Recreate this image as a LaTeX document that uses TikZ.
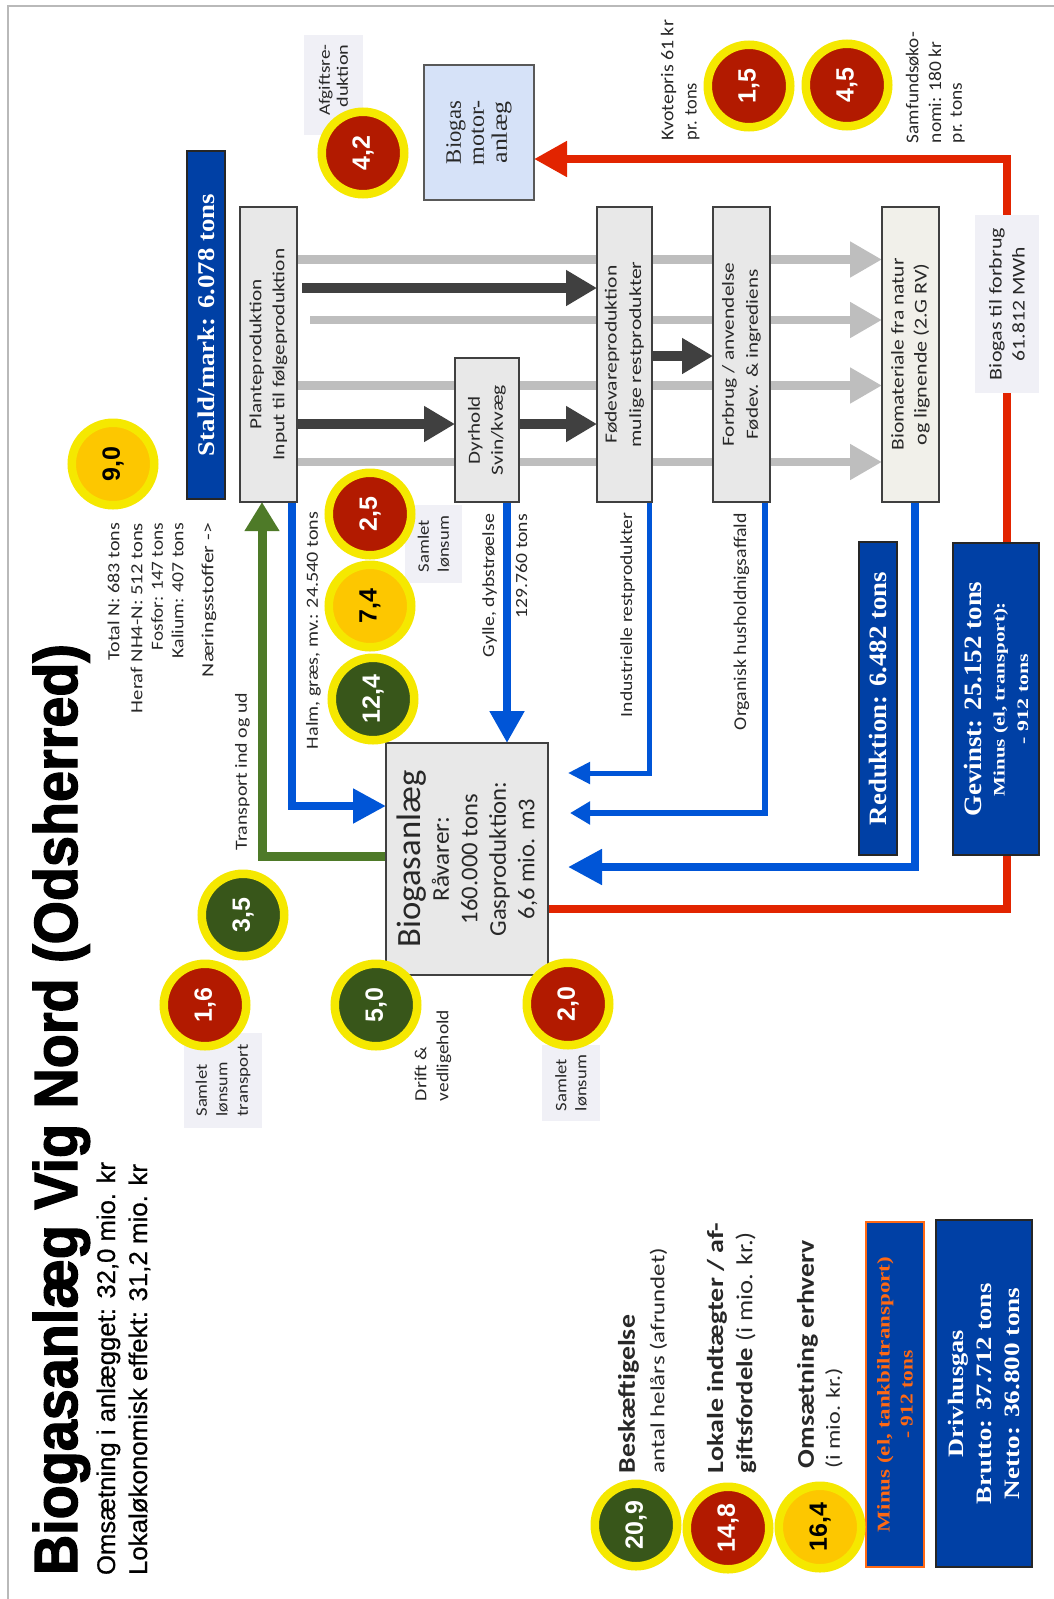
\documentclass[tikz,border=0pt]{standalone}
\usepackage{fontspec}
\usepackage{graphicx}
\setmainfont{Carlito}
\newfontfamily\lsans{Liberation Sans}
\newfontfamily\titf{Liberation Sans}[BoldFeatures={FakeBold=2.2}]
\newfontfamily\subf{Liberation Sans}[UprightFeatures={FakeBold=0.6}]
\newfontfamily\lserif{Liberation Serif}
\usetikzlibrary{arrows.meta}
\pgfdeclarelayer{bg}
\pgfsetlayers{bg,main}
\definecolor{dblue}{RGB}{0,64,165}
\definecolor{lblue}{RGB}{214,226,248}
\definecolor{bgray}{RGB}{232,232,232}
\definecolor{bwarm}{RGB}{241,240,234}
\definecolor{lbox}{RGB}{240,240,246}
\definecolor{bline}{RGB}{0,85,215}
\definecolor{rline}{RGB}{226,36,0}
\definecolor{gline}{RGB}{78,122,40}
\definecolor{lgray}{RGB}{190,190,190}
\definecolor{dgray}{RGB}{64,64,64}
\definecolor{ringy}{RGB}{245,232,0}
\definecolor{cred}{RGB}{178,26,0}
\definecolor{cgrn}{RGB}{56,86,26}
\definecolor{cgold}{RGB}{253,199,0}
\definecolor{orng}{RGB}{255,105,20}
\definecolor{txt}{RGB}{40,40,40}
\definecolor{framec}{RGB}{185,185,185}
\newcommand\fw[2]{\resizebox{#1pt}{\height}{#2}}
\newcommand\fsz[2]{\fontsize{#1pt}{#2pt}\selectfont}
\tikzset{
 rtxt/.style={rotate=90, inner sep=0pt, outer sep=0pt, text=txt},
 gbox/.style={rotate=90, draw=black!75, line width=1.1pt, fill=bgray, inner sep=0pt, outer sep=0pt, align=center, text=txt},
 lbl/.style={rotate=90, fill=lbox, inner sep=0pt, outer sep=0pt, text=txt},
 dbox/.style={rotate=90, draw=black!85, line width=1.2pt, fill=dblue, inner sep=0pt, outer sep=0pt, align=center, text=white},
 ncirc/.style={circle, draw=ringy, line width=8.5pt, minimum size=82.5pt, inner sep=0pt, rotate=90, font=\lsans\bfseries\fsz{25}{28}},
 nred/.style={ncirc, fill=cred, text=white},
 ngrn/.style={ncirc, fill=cgrn, text=white},
 ngold/.style={ncirc, fill=cgold, text=black},
 glin/.style={draw=lgray, line width=8.5pt, -{Triangle[length=32pt,width=34pt]}},
 dlin/.style={draw=dgray, line width=10pt, -{Triangle[length=31pt,width=34pt]}},
 blin/.style={draw=bline, line width=8pt},
}
\begin{document}
\begin{tikzpicture}[x=1pt,y=-1pt]
\useasboundingbox (0,0) rectangle (1054,1599);
% ---------- boxes ----------
\node[gbox, minimum width=295pt, minimum height=57pt, font=\fsz{17}{23}] (plante) at (268.5,354.5) {\fw{150}{Planteproduktion}\\\fw{212}{Input til følgeproduktion}};
\node[gbox, minimum width=144pt, minimum height=64pt, font=\fsz{17}{23}] (dyr) at (487,430) {\fw{68}{Dyrhold}\\\fw{90}{Svin/kvæg}};
\node[gbox, minimum width=295pt, minimum height=55pt, font=\fsz{17}{24.5}] (fode) at (624.5,354.5) {\fw{178}{Fødevareproduktion}\\\fw{186}{mulige restprodukter}};
\node[gbox, minimum width=295pt, minimum height=57pt, font=\fsz{17}{24}] (forb) at (741.5,354.5) {\fw{184}{Forbrug / anvendelse}\\\fw{170}{Fødev. \& ingrediens}};
\node[gbox, fill=bwarm, minimum width=295pt, minimum height=57pt, font=\fsz{18}{23}] (biom) at (910.5,354.5) {\fw{192}{Biomateriale fra natur}\\\fw{182}{og lignende (2.G RV)}};
\node[gbox, minimum width=232pt, minimum height=162pt, font=\fsz{24}{28.5}] (bio) at (467,859) {{\fsz{34}{34}\fw{177}{Biogasanlæg}}\\\fw{85}{Råvarer:}\\\fw{130}{160.000 tons}\\\fw{155}{Gasproduktion:}\\\fw{120}{6,6 mio. m3}};
\node[gbox, fill=lblue, draw=black!65, minimum width=135pt, minimum height=110pt, font=\lserif\fsz{22}{23}] (motor) at (479,132.5) {\fw{63}{Biogas}\\\fw{65}{motor-}\\\fw{62}{anlæg}};
% ---------- label boxes ----------
\node[lbl, minimum width=100pt, minimum height=59pt, align=right, font=\fsz{16}{18}] (afg) at (333.5,85) {\hspace*{10pt}\fw{71}{Afgiftsre-}\\\fw{63}{duktion}};
\node[lbl, minimum width=78pt, minimum height=57pt, align=left, font=\fsz{16}{20}] (sl1) at (433.5,544) {\fw{52}{Samlet}\\\fw{56}{lønsum}};
\node[lbl, minimum width=95pt, minimum height=78pt, align=left, font=\fsz{16}{20.5}] (slt) at (223,1080.5) {\fw{52}{Samlet}\\\fw{54}{lønsum}\\\fw{72}{transport}};
\node[lbl, minimum width=76pt, minimum height=58pt, align=left, font=\fsz{16}{20}] (sl2) at (571,1083) {\fw{52}{Samlet}\\\fw{56}{lønsum}};
\node[lbl, minimum width=178pt, minimum height=64pt, align=center, font=\fsz{18}{23}] (bforb) at (1007,304) {\fw{152}{Biogas til forbrug}\\\fw{114}{61.812 MWh}};
% ---------- dark blue boxes ----------
\node[dbox, minimum width=348pt, minimum height=38pt, font=\lserif\bfseries\fsz{24}{28}] (stald) at (206,325) {\fw{262}{Stald/mark: 6.078 tons}};
\node[dbox, minimum width=313pt, minimum height=38pt, font=\lserif\bfseries\fsz{25}{28}] (redk) at (878,698.5) {\fw{253}{Reduktion: 6.482 tons}};
\node[dbox, minimum width=312pt, minimum height=86pt, font=\lserif\bfseries\fsz{16}{23.5}] (gev) at (996,699) {{\fsz{25}{25}\fw{235}{Gevinst: 25.152 tons}}\\\fw{194}{Minus (el, transport):}\\\fw{90}{- 912 tons}};
\node[dbox, draw=orng, text=orng, minimum width=345pt, minimum height=58pt, font=\lserif\bfseries\fsz{18}{23}] (minus) at (895,1394.5) {\fw{275}{Minus (el, tankbiltransport)}\\\fw{88}{- 912 tons}};
\node[dbox, minimum width=347pt, minimum height=96pt, font=\lserif\bfseries\fsz{22}{28}] (driv) at (984,1393.5) {\fw{127}{Drivhusgas}\\\fw{221}{Brutto: 37.712 tons}\\\fw{212}{Netto: 36.800 tons}};
% ---------- free texts ----------
\node[rtxt, text=black, anchor=base west, font=\titf\bfseries\fsz{61}{61}] (title) at (77,1575) {\fw{931}{Biogasanlæg Vig Nord (Odsherred)}};
\node[rtxt, text=black, anchor=base west, font=\subf\fsz{25.5}{26}] (sub1) at (115,1575) {\fw{413}{Omsætning i anlægget: 32,0 mio. kr}};
\node[rtxt, text=black, anchor=base west, font=\subf\fsz{25.5}{26}] (sub2) at (147,1575) {\fw{411}{Lokaløkonomisk effekt: 31,2 mio. kr}};
\node[rtxt, anchor=east, font=\fsz{17}{17}] (n1) at (113.5,523) {\fw{137}{Total N: 683 tons}};
\node[rtxt, anchor=east, font=\fsz{17}{17}] (n2) at (136.5,523) {\fw{190}{Heraf NH4-N: 512 tons}};
\node[rtxt, anchor=east, font=\fsz{17}{17}] (n3) at (157,523) {\fw{127}{Fosfor: 147 tons}};
\node[rtxt, anchor=east, font=\fsz{17}{17}] (n4) at (177.5,523) {\fw{135}{Kalium: 407 tons}};
\node[rtxt, anchor=east, font=\fsz{17}{17}] (n5) at (209,523) {\fw{154}{Næringsstoffer ->}};
\node[rtxt, font=\fsz{17}{17}] (ttrans) at (242.5,771.5) {\fw{157}{Transport ind og ud}};
\node[rtxt, anchor=east, font=\fsz{17}{17}] (thalm) at (313.5,512) {\fw{237}{Halm, græs, mv.: 24.540 tons}};
\node[rtxt, anchor=east, font=\fsz{17}{17}] (tgyl1) at (489.5,514) {\fw{143}{Gylle, dybstrøelse}};
\node[rtxt, anchor=east, font=\fsz{17}{17}] (tgyl2) at (521.5,514) {\fw{104}{129.760 tons}};
\node[rtxt, anchor=east, font=\fsz{17}{17}] (tind) at (627.5,513) {\fw{204}{Industrielle restprodukter}};
\node[rtxt, anchor=east, font=\fsz{18}{18}] (torg) at (741.5,513) {\fw{217}{Organisk husholdnigsaffald}};
\node[rtxt, anchor=west, font=\fsz{17}{17}] (tdr1) at (420.5,1101) {\fw{54}{Drift \&}};
\node[rtxt, anchor=west, font=\fsz{17}{17}] (tdr2) at (444,1101) {\fw{91}{vedligehold}};
\node[rtxt, anchor=west, font=\fsz{18}{18}] (tkv1) at (668.5,140) {\fw{120}{Kvotepris 61 kr}};
\node[rtxt, anchor=west, font=\fsz{18}{18}] (tkv2) at (692.5,140) {\fw{57}{pr. tons}};
\node[rtxt, anchor=west, font=\fsz{18}{18}] (tsf1) at (912.5,143) {\fw{111}{Samfundsøko-}};
\node[rtxt, anchor=west, font=\fsz{18}{18}] (tsf2) at (935,143) {\fw{101}{nomi: 180 kr}};
\node[rtxt, anchor=west, font=\fsz{18}{18}] (tsf3) at (957.5,143) {\fw{60}{pr. tons}};
\node[rtxt, anchor=west, font=\bfseries\fsz{24}{24}] (lg1) at (628.5,1473) {\fw{158}{Beskæftigelse}};
\node[rtxt, anchor=west, font=\fsz{20}{20}] (lg2) at (658.5,1473) {\fw{225}{antal helårs (afrundet)}};
\node[rtxt, anchor=west, font=\bfseries\fsz{23}{23}] (lg3) at (717,1473) {\fw{250}{Lokale indtægter / af-}};
\node[rtxt, anchor=west, font=\fsz{23}{23}] (lg4) at (746,1473) {\fw{241}{\textbf{giftsfordele} (i mio. kr.)}};
\node[rtxt, anchor=west, font=\bfseries\fsz{24}{24}] (lg5) at (807.5,1468) {\fw{228}{Omsætning erhverv}};
\node[rtxt, anchor=west, font=\fsz{20}{20}] (lg6) at (834,1468) {\fw{100}{(i mio. kr.)}};
% ---------- circles ----------
\node[ngold] (c90) at (113,464) {9,0};
\node[nred] (c42) at (363,153) {4,2};
\node[nred] (c15) at (749,86) {1,5};
\node[nred] (c45) at (847,85) {4,5};
\node[nred] (c25) at (370,514) {2,5};
\node[ngold] (c74) at (370,606) {7,4};
\node[ngrn] (c124) at (373,699) {12,4};
\node[ngrn] (c35) at (243,915) {3,5};
\node[nred] (c16) at (205,1005) {1,6};
\node[ngrn] (c50) at (376,1005) {5,0};
\node[nred] (c20) at (568,1004) {2,0};
\node[ngrn] (c209) at (636,1525) {20,9};
\node[nred] (c148) at (728,1528) {14,8};
\node[ngold] (c164) at (820,1527) {16,4};
% ---------- connectors ----------
\begin{pgfonlayer}{bg}
\draw[draw=framec, line width=1.2pt] (8,1599) -- (8,6) -- (1054,6);
\draw[glin] (plante.south |- 0,259.5) -- (biom.north |- 0,259.5);
\coordinate (g2s) at (310,320);
\draw[glin] (g2s) -- (biom.north |- g2s);
\draw[glin] (plante.south |- 0,385.5) -- (biom.north |- 0,385.5);
\draw[glin] (plante.south |- 0,462) -- (biom.north |- 0,462);
\coordinate (d1s) at (302,288);
\draw[dlin] (d1s) -- (fode.north |- d1s);
\draw[dlin] (plante.south |- 0,424) -- (dyr.north |- 0,424);
\draw[dlin] (dyr.south |- 0,424) -- (fode.north |- 0,424);
\draw[dlin] (fode.south |- 0,356) -- (forb.north |- 0,356);
\draw[blin, -{Triangle[length=33pt,width=33pt]}] (292,0 |- plante.west) |- (bio.north |- 0,806);
\draw[blin, -{Triangle[length=32pt,width=33pt]}] (507,0 |- dyr.west) -- (507,0 |- bio.east);
\coordinate (ia) at (568,773);
\draw[blin, line width=5pt, -{Triangle[length=22pt,width=21pt]}] (649,0 |- fode.west) |- (ia);
\coordinate (oa) at (570,813);
\draw[blin, line width=6pt, -{Triangle[length=20pt,width=22pt]}] (765,0 |- forb.west) |- (oa);
\coordinate (ba) at (568,867);
\draw[blin, -{Triangle[length=34pt,width=34pt]}] (915,0 |- biom.west) |- (ba);
\draw[draw=gline, line width=9pt, -{Triangle[length=29pt,width=33pt]}] (bio.north |- 0,856) -| (262,0 |- plante.west);
\coordinate (rc) at (1007,159);
\draw[draw=rline, line width=8pt, -{Triangle[length=33pt,width=34pt]}] (bio.south |- 0,909) -| (rc) -- (motor.south |- rc);
\end{pgfonlayer}
\end{tikzpicture}
\end{document}
